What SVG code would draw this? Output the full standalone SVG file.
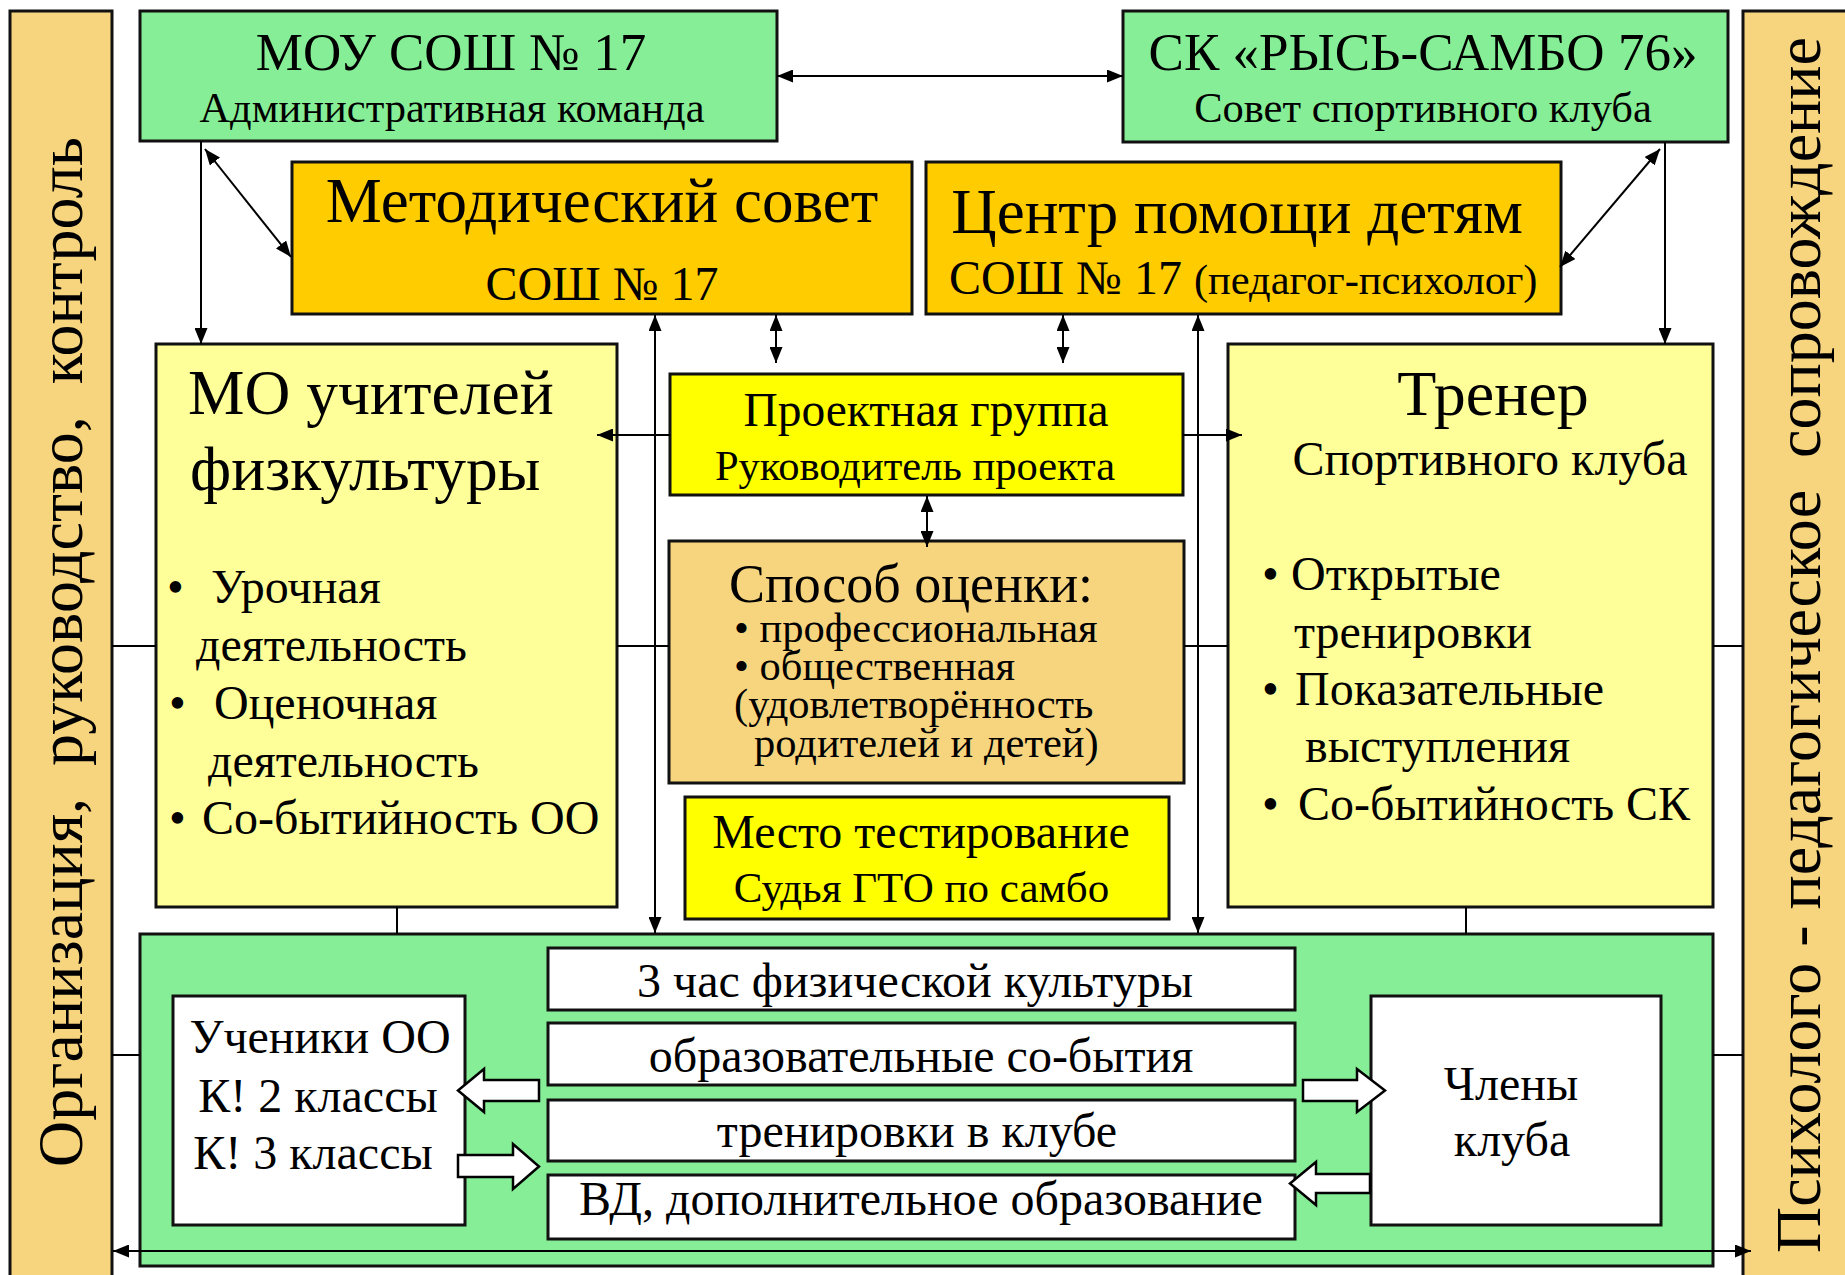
<svg xmlns="http://www.w3.org/2000/svg" width="1845" height="1275" viewBox="0 0 1845 1275">
<defs>
<style>
.t{font-family:"Liberation Serif","Times New Roman",serif;fill:#000}
.c{text-anchor:middle}
.box{stroke:#111;stroke-width:3}
.g{fill:#86EE96}.o{fill:#FFCC00}.py{fill:#FFFF99}.y{fill:#FFFF00}.tan{fill:#F7D57F}.w{fill:#fff}
.ln{stroke:#000;stroke-width:2;fill:none}
.ba{fill:#fff;stroke:#000;stroke-width:2.5}
</style>
<marker id="ah" viewBox="0 0 16 13" refX="16" refY="6.5" markerWidth="16" markerHeight="13" markerUnits="userSpaceOnUse" orient="auto-start-reverse">
<path d="M0,0 L16,6.5 L0,13 z" fill="#000"/>
</marker>
</defs>
<rect width="1845" height="1275" fill="#fff"/>

<g id="band-left">
<rect class="box tan" x="10" y="11" width="102" height="1270"/>
<text class="t c" transform="translate(82,652) rotate(-90)" font-size="64" xml:space="preserve">Организация,  руководство,  контроль</text>
</g>
<g id="band-right">
<rect class="box tan" x="1743" y="11" width="110" height="1270"/>
<text class="t c" transform="translate(1820,645) rotate(-90)" font-size="64" xml:space="preserve">Психолого - педагогическое  сопровождение</text>
</g>

<g id="mou">
<rect class="box g" x="140" y="11" width="637" height="130"/>
<text class="t c" x="451" y="70" font-size="53">МОУ СОШ № 17</text>
<text class="t c" x="452" y="122" font-size="42.5">Административная команда</text>
</g>
<g id="sk">
<rect class="box g" x="1123" y="11" width="605" height="131"/>
<text class="t c" x="1423" y="70" font-size="53">СК «РЫСЬ-САМБО 76»</text>
<text class="t c" x="1423" y="122" font-size="42.5">Совет спортивного клуба</text>
</g>
<g id="metod">
<rect class="box o" x="292" y="162" width="620" height="152"/>
<text class="t c" x="602" y="222" font-size="63">Методический совет</text>
<text class="t c" x="602" y="300" font-size="48">СОШ № 17</text>
</g>
<g id="centr">
<rect class="box o" x="926" y="162" width="635" height="152"/>
<text class="t c" x="1237" y="233" font-size="63">Центр помощи детям</text>
<text class="t" x="949" y="294" font-size="48">СОШ № 17 <tspan font-size="42.5">(педагог-психолог)</tspan></text>
</g>
<g id="mo">
<rect class="box py" x="156" y="344" width="461" height="563"/>
<text class="t" x="188" y="414" font-size="63.5">МО учителей</text>
<text class="t" x="190" y="490" font-size="63.5">физкультуры</text>
<text class="t" font-size="48"><tspan x="167" y="603">•</tspan><tspan x="211" y="603">Урочная</tspan><tspan x="196" y="661">деятельность</tspan><tspan x="169" y="719">•</tspan><tspan x="214" y="719">Оценочная</tspan><tspan x="208" y="777">деятельность</tspan><tspan x="169" y="834">•</tspan><tspan x="202" y="834">Со-бытийность ОО</tspan></text>
</g>
<g id="trener">
<rect class="box py" x="1228" y="344" width="485" height="563"/>
<text class="t c" x="1493" y="415" font-size="64">Тренер</text>
<text class="t c" x="1490" y="475" font-size="48">Спортивного клуба</text>
<text class="t" font-size="48"><tspan x="1262" y="590">•</tspan><tspan x="1291" y="590">Открытые</tspan><tspan x="1294" y="648">тренировки</tspan><tspan x="1262" y="705">•</tspan><tspan x="1295" y="705">Показательные</tspan><tspan x="1305" y="762">выступления</tspan><tspan x="1262" y="820">•</tspan><tspan x="1298" y="820">Со-бытийность СК</tspan></text>
</g>
<g id="proekt">
<rect class="box y" x="670" y="374" width="513" height="121"/>
<text class="t c" x="926" y="426" font-size="47.5">Проектная группа</text>
<text class="t c" x="915" y="480" font-size="42.5">Руководитель проекта</text>
</g>
<g id="sposob">
<rect class="box tan" x="669" y="541" width="515" height="242"/>
<text class="t c" x="911" y="602" font-size="54">Способ оценки:</text>
<text class="t" font-size="42.5" xml:space="preserve"><tspan x="734" y="642">• профессиональная</tspan><tspan x="734" y="680">• общественная</tspan><tspan x="734" y="718">(удовлетворённость</tspan><tspan x="754" y="757">родителей и детей)</tspan></text>
</g>
<g id="mesto">
<rect class="box y" x="685" y="797" width="484" height="122"/>
<text class="t c" x="921" y="848" font-size="48">Место тестирование</text>
<text class="t c" x="921.5" y="902" font-size="43">Судья ГТО по самбо</text>
</g>
<g id="green">
<rect class="box g" x="140" y="934" width="1573" height="332"/>
</g>
<g id="bars">
<rect class="box w" x="548" y="948" width="747" height="62"/>
<text class="t c" x="915" y="997" font-size="48">3 час физической культуры</text>
<rect class="box w" x="548" y="1023" width="747" height="62"/>
<text class="t c" x="921" y="1072" font-size="48">образовательные со-бытия</text>
<rect class="box w" x="548" y="1100" width="747" height="61"/>
<text class="t c" x="917" y="1147" font-size="48">тренировки в клубе</text>
<rect class="box w" x="548" y="1175" width="747" height="64"/>
<text class="t c" x="921" y="1215" font-size="48">ВД, дополнительное образование</text>
</g>
<g id="ucheniki">
<rect class="box w" x="173" y="996" width="292" height="229"/>
<text class="t c" x="320" y="1053" font-size="48">Ученики ОО</text>
<text class="t c" x="318" y="1112" font-size="48">К! 2 классы</text>
<text class="t c" x="313" y="1169" font-size="48">К! 3 классы</text>
</g>
<g id="chleny">
<rect class="box w" x="1371" y="996" width="290" height="229"/>
<text class="t c" x="1511" y="1100" font-size="48">Члены</text>
<text class="t c" x="1512" y="1156" font-size="48">клуба</text>
</g>

<g id="connectors">
<path class="ln" d="M777,76 H1123" marker-start="url(#ah)" marker-end="url(#ah)"/>
<path class="ln" d="M201,141 V344" marker-end="url(#ah)"/>
<path class="ln" d="M205,149 L291,257" marker-start="url(#ah)" marker-end="url(#ah)"/>
<path class="ln" d="M1665,142 V344" marker-end="url(#ah)"/>
<path class="ln" d="M1660,149 L1560,267" marker-start="url(#ah)" marker-end="url(#ah)"/>
<path class="ln" d="M776,315 V363" marker-start="url(#ah)" marker-end="url(#ah)"/>
<path class="ln" d="M1063,315 V363" marker-start="url(#ah)" marker-end="url(#ah)"/>
<path class="ln" d="M927,496 V547" marker-start="url(#ah)" marker-end="url(#ah)"/>
<path class="ln" d="M655,315 V933" marker-start="url(#ah)" marker-end="url(#ah)"/>
<path class="ln" d="M1198,315 V933" marker-start="url(#ah)" marker-end="url(#ah)"/>
<path class="ln" d="M670,435 H597" marker-end="url(#ah)"/>
<path class="ln" d="M1183,435 H1242" marker-end="url(#ah)"/>
<path class="ln" d="M112,646 H156 M617,646 H669 M1184,646 H1228 M1713,646 H1743"/>
<path class="ln" d="M112,1055 H140 M1713,1055 H1743"/>
<path class="ln" d="M397,907 V934 M1466,907 V934"/>
<path class="ln" d="M113,1251 H1751" marker-start="url(#ah)" marker-end="url(#ah)"/>
<polygon class="ba" points="539,1080 484,1080 484,1069 458,1090.5 484,1112 484,1101 539,1101"/>
<polygon class="ba" points="458,1155 513,1155 513,1144 539,1166.5 513,1189 513,1177 458,1177"/>
<polygon class="ba" points="1303,1080 1357,1080 1357,1069 1385,1090.5 1357,1112 1357,1101 1303,1101"/>
<polygon class="ba" points="1370,1174 1316,1174 1316,1162 1290,1183.5 1316,1205 1316,1193 1370,1193"/>
</g>
</svg>
